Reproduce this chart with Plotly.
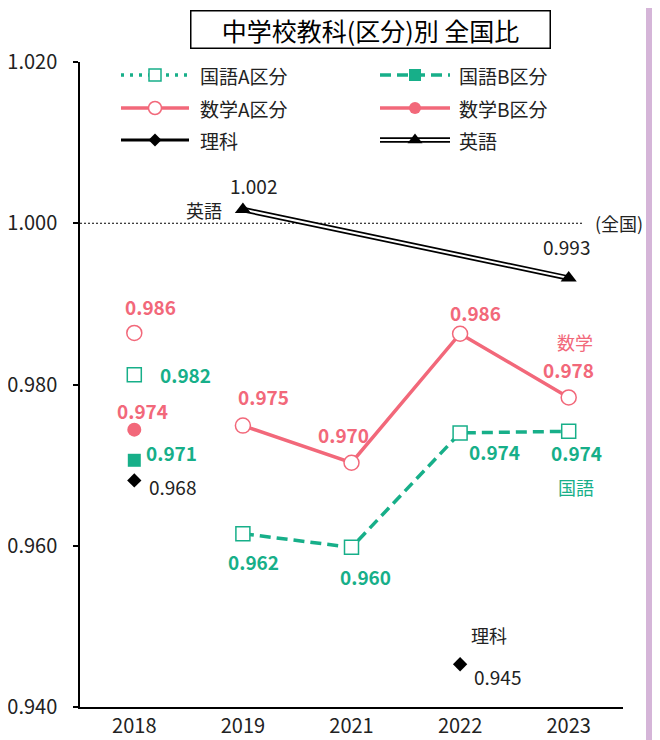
import plotly.graph_objects as go

# ---------------- data ----------------
years = ["2018", "2019", "2021", "2022", "2023"]

kokugo_a = [0.9812, None, None, None, None]      # 国語A区分
kokugo_b = [0.9706, None, None, None, None]      # 国語B区分
sugaku_a = [0.9864, None, None, None, None]      # 数学A区分
sugaku_b = [0.9744, None, None, None, None]      # 数学B区分
kokugo = [None, 0.9615, 0.9598, 0.9740, 0.9742]  # 国語
sugaku = [None, 0.9749, 0.9703, 0.9863, 0.9784]  # 数学
rika = [0.9681, None, None, 0.9453, None]        # 理科
eigo = [None, 1.0017, None, None, 0.9932]        # 英語

kokugo_a_lbl = ["0.982", None, None, None, None]
kokugo_b_lbl = ["0.971", None, None, None, None]
sugaku_a_lbl = ["0.986", None, None, None, None]
sugaku_b_lbl = ["0.974", None, None, None, None]
kokugo_lbl = [None, "0.962", "0.960", "0.974", "0.974"]
sugaku_lbl = [None, "0.975", "0.970", "0.986", "0.978"]
rika_lbl = ["0.968", None, None, "0.945", None]
eigo_lbl = [None, "1.002", None, None, "0.993"]

y_ticks = [0.940, 0.960, 0.980, 1.000, 1.020]
y_tick_text = ["0.940", "0.960", "0.980", "1.000", "1.020"]
national = 1.000
national_text = "(全国)"
title_text = "中学校教科(区分)別 全国比"
legend_names = ["国語A区分", "国語B区分", "数学A区分", "数学B区分", "理科", "英語"]

# ---------------- style ----------------
PINK = "#f2687a"
TEAL = "#17af89"
BLACK = "#000000"
TXT = "#222222"
PURPLE = "#d5b5d8"
FONT = "Noto Sans CJK JP, sans-serif"
CJK = "Noto Sans CJK JP, sans-serif"
DASH = "11px,6px"
DOT = "3px,6px"

fig = go.Figure()

# main lines
fig.add_trace(go.Scatter(x=years, y=kokugo, mode="lines+markers",
                         line=dict(color=TEAL, width=3.5, dash=DASH),
                         marker=dict(symbol="square", size=14, color="white",
                                     line=dict(color=TEAL, width=1.5))))
fig.add_trace(go.Scatter(x=years, y=sugaku, mode="lines+markers",
                         line=dict(color=PINK, width=3.5),
                         marker=dict(symbol="circle", size=15, color="white",
                                     line=dict(color=PINK, width=1.5))))
# 2018 single points
fig.add_trace(go.Scatter(x=years, y=kokugo_a, mode="markers",
                         marker=dict(symbol="square", size=14, color="white",
                                     line=dict(color=TEAL, width=1.5))))
fig.add_trace(go.Scatter(x=years, y=kokugo_b, mode="markers",
                         marker=dict(symbol="square", size=13, color=TEAL)))
fig.add_trace(go.Scatter(x=years, y=sugaku_a, mode="markers",
                         marker=dict(symbol="circle", size=15, color="white",
                                     line=dict(color=PINK, width=1.5))))
fig.add_trace(go.Scatter(x=years, y=sugaku_b, mode="markers",
                         marker=dict(symbol="circle", size=14, color=PINK)))
fig.add_trace(go.Scatter(x=years, y=rika, mode="markers",
                         marker=dict(symbol="diamond", size=11, color=BLACK)))
# 英語 double line
fig.add_trace(go.Scatter(x=years, y=eigo, mode="lines", connectgaps=True,
                         line=dict(color=BLACK, width=5.5)))
fig.add_trace(go.Scatter(x=years, y=eigo, mode="lines", connectgaps=True,
                         line=dict(color="white", width=2)))
fig.add_trace(go.Scatter(x=years, y=eigo, mode="markers",
                         marker=dict(symbol="triangle-up", size=14, color=BLACK)))

# ---------------- data labels ----------------
ann = []


def add_labels(values, labels, offsets, color, bold):
    for i, (v, t) in enumerate(zip(values, labels)):
        if v is None or t is None:
            continue
        dx, dy = offsets[i]
        txt = "<b>%s</b>" % t if bold else t
        ann.append(dict(x=i, y=v, xref="x", yref="y", text=txt,
                        showarrow=False, xshift=dx, yshift=dy,
                        font=dict(family=FONT, size=19, color=color)))


add_labels(sugaku_a, sugaku_a_lbl, {0: (16, 26)}, PINK, True)
add_labels(kokugo_a, kokugo_a_lbl, {0: (51, 0)}, TEAL, True)
add_labels(sugaku_b, sugaku_b_lbl, {0: (8, 19)}, PINK, True)
add_labels(kokugo_b, kokugo_b_lbl, {0: (37, 8)}, TEAL, True)
add_labels(rika, rika_lbl, {0: (38, -6), 3: (37, -12)}, TXT, False)
add_labels(sugaku, sugaku_lbl, {1: (21, 29), 2: (-8, 28), 3: (15, 21), 4: (0, 28)}, PINK, True)
add_labels(kokugo, kokugo_lbl, {1: (11, -28), 2: (14, -29), 3: (34, -19), 4: (8, -21)}, TEAL, True)
add_labels(eigo, eigo_lbl, {1: (11, 24), 4: (-2, 32)}, TXT, False)


def name_label(i, v, text, dx, dy, color):
    ann.append(dict(x=i, y=v, xref="x", yref="y", text=text, showarrow=False,
                    xshift=dx, yshift=dy, font=dict(family=CJK, size=18, color=color)))


name_label(4, sugaku[4], "数学", 6, 55, PINK)
name_label(4, kokugo[4], "国語", 7, -56, TEAL)
name_label(3, rika[3], "理科", 29, 29, TXT)
name_label(1, eigo[1], "英語", -39, 0, TXT)

# national reference label
ann.append(dict(x=0.945, y=national, xref="paper", yref="y", text=national_text,
                showarrow=False, xanchor="left",
                font=dict(family=CJK, size=18, color=TXT)))

# title box
ann.append(dict(x=0.5359, y=1.0504, xref="paper", yref="paper", text=title_text,
                showarrow=False, xanchor="center", yanchor="middle",
                width=358, height=36, borderpad=0, bordercolor=BLACK, borderwidth=1.5,
                bgcolor="white", font=dict(family=CJK, size=25, color=BLACK)))

# ---------------- custom legend (overlay axes in pixel units) ----------------
leg_rows = [75, 108, 140]
leg_cols = [(121, 189, 198), (380, 450, 457)]
leg_specs = [
    dict(line=dict(color=TEAL, width=3.5, dash=DOT),
         marker=dict(symbol="square", size=12, color="white", line=dict(color=TEAL, width=1.5))),
    dict(line=dict(color=TEAL, width=3.5, dash=DASH),
         marker=dict(symbol="square", size=12, color=TEAL)),
    dict(line=dict(color=PINK, width=3.5),
         marker=dict(symbol="circle", size=13, color="white", line=dict(color=PINK, width=1.5))),
    dict(line=dict(color=PINK, width=3.5),
         marker=dict(symbol="circle", size=12, color=PINK)),
    dict(line=dict(color=BLACK, width=3),
         marker=dict(symbol="diamond", size=10, color=BLACK)),
    None,
]
for k, name in enumerate(legend_names):
    row = leg_rows[k // 2]
    x0, x1, xt = leg_cols[k % 2]
    xm = (x0 + x1) / 2
    spec = leg_specs[k]
    if spec is None:  # 英語 double line
        fig.add_trace(go.Scatter(x=[x0, x1], y=[row, row], mode="lines", xaxis="x2", yaxis="y2",
                                 line=dict(color=BLACK, width=5.5)))
        fig.add_trace(go.Scatter(x=[x0, x1], y=[row, row], mode="lines", xaxis="x2", yaxis="y2",
                                 line=dict(color="white", width=2)))
        fig.add_trace(go.Scatter(x=[xm], y=[row], mode="markers", xaxis="x2", yaxis="y2",
                                 marker=dict(symbol="triangle-up", size=13, color=BLACK)))
    else:
        fig.add_trace(go.Scatter(x=[x0, x1], y=[row, row], mode="lines", xaxis="x2", yaxis="y2",
                                 line=spec["line"]))
        fig.add_trace(go.Scatter(x=[xm], y=[row], mode="markers", xaxis="x2", yaxis="y2",
                                 marker=spec["marker"]))
    ann.append(dict(x=xt, y=row, xref="x2", yref="y2", text=name, showarrow=False,
                    xanchor="left", yanchor="middle",
                    font=dict(family=CJK, size=19, color=TXT)))

# the page adds an 8px body margin: size the figure so the plot area lands
# where the reference has it (x 80..623, y 62..707 in the window)
fig.update_layout(
    width=652, height=732,
    margin=dict(l=72, r=37, t=54, b=33, autoexpand=False),
    paper_bgcolor="white", plot_bgcolor="white",
    showlegend=False,
    annotations=ann,
    xaxis=dict(type="category", categoryorder="array", categoryarray=years,
               range=[-0.5, 4.5], showline=True, linecolor=BLACK, linewidth=1.5,
               ticks="", showgrid=False, zeroline=False, ticklabelstandoff=0,
               automargin=False,
               tickfont=dict(family=FONT, size=20, color=TXT)),
    yaxis=dict(range=[0.940, 1.020], tickvals=y_ticks, ticktext=y_tick_text,
               showline=True, linecolor=BLACK, linewidth=1.5,
               ticks="outside", ticklen=5, tickcolor=BLACK, tickwidth=1.5,
               showgrid=False, zeroline=False, ticklabelstandoff=12,
               automargin=False,
               tickfont=dict(family=FONT, size=20, color=TXT)),
    xaxis2=dict(overlaying="x", range=[80, 623], visible=False, fixedrange=True),
    yaxis2=dict(overlaying="y", range=[707, 62], visible=False, fixedrange=True),
    shapes=[
        dict(type="line", xref="paper", yref="y", x0=0, x1=0.926, y0=national, y1=national,
             line=dict(color=BLACK, width=1, dash="2px,2px"), layer="below"),
        dict(type="rect", xref="paper", yref="paper", x0=(646 - 80) / 543, x1=1.1,
             y0=-0.1, y1=1.2, fillcolor=PURPLE, line=dict(width=0), layer="below"),
    ],
)

fig.write_html("out.html")
